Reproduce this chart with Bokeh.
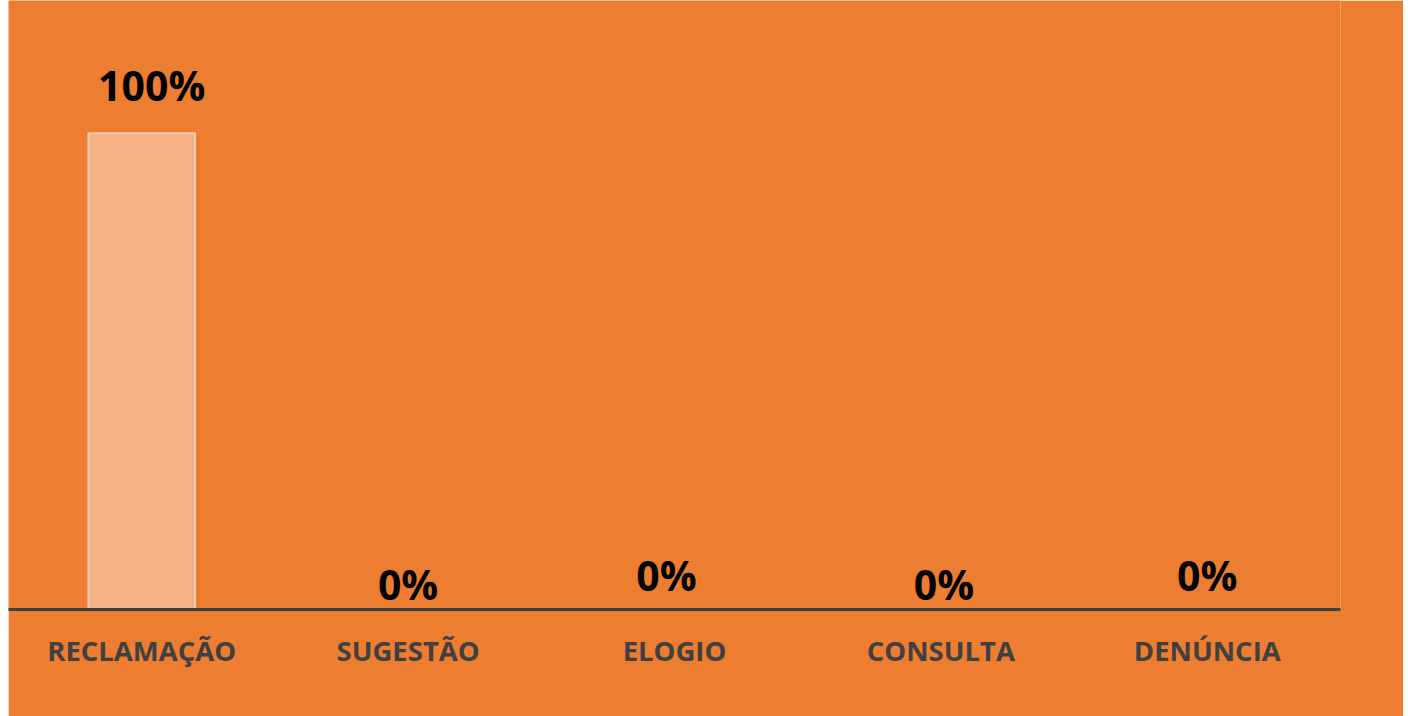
from bokeh.plotting import figure
from bokeh.models import ColumnDataSource, Range1d, FactorRange
from bokeh.core.properties import value
from bokeh.embed import file_html
from bokeh.resources import INLINE

categories = ["RECLAMAÇÃO", "SUGESTÃO", "ELOGIO", "CONSULTA", "DENÚNCIA"]
percentages = [100, 0, 0, 0, 0]
label_texts = ["100%", "0%", "0%", "0%", "0%"]

# label placement (style only, screen px)
label_dx = [10, 0, -8, 3, 0]
label_dy = [-48, -26, -35, -26, -35]

src = ColumnDataSource(dict(cat=categories, pct=percentages, txt=label_texts,
                            dx=label_dx, dy=label_dy))

BG = "#ED7D31"
p = figure(width=1395, height=716, output_backend="svg", toolbar_location=None,
           x_range=FactorRange(factors=categories, range_padding=0),
           y_range=Range1d(0, 127.9),
           min_border_left=0, min_border_right=63, min_border_top=0, min_border_bottom=107,
           background_fill_color=BG, border_fill_color=BG, outline_line_color=None,
           margin=(0, 0, 0, 8))

p.vbar(x="cat", top="pct", width=0.40, source=src,
       fill_color="#F4B183", line_color="#F8CBAD", line_width=2)

p.text(x="cat", y="pct", text="txt", x_offset="dx", y_offset="dy", source=src,
       text_font=value("Open Sans"), text_font_style="bold", text_font_size="41px",
       text_color="#000000", text_align="center", text_baseline="middle")

p.xgrid.visible = False
p.ygrid.visible = False
p.yaxis.visible = False
ax = p.xaxis[0]
ax.axis_line_color = "#404040"
ax.axis_line_width = 3
ax.major_tick_line_color = None
ax.minor_tick_line_color = None
ax.major_label_text_font = "Open Sans"
ax.major_label_text_font_style = "bold"
ax.major_label_text_font_size = "27.5px"
ax.major_label_text_color = "#404040"
ax.major_label_standoff = 16

open("out.html", "w").write(file_html(p, INLINE))
